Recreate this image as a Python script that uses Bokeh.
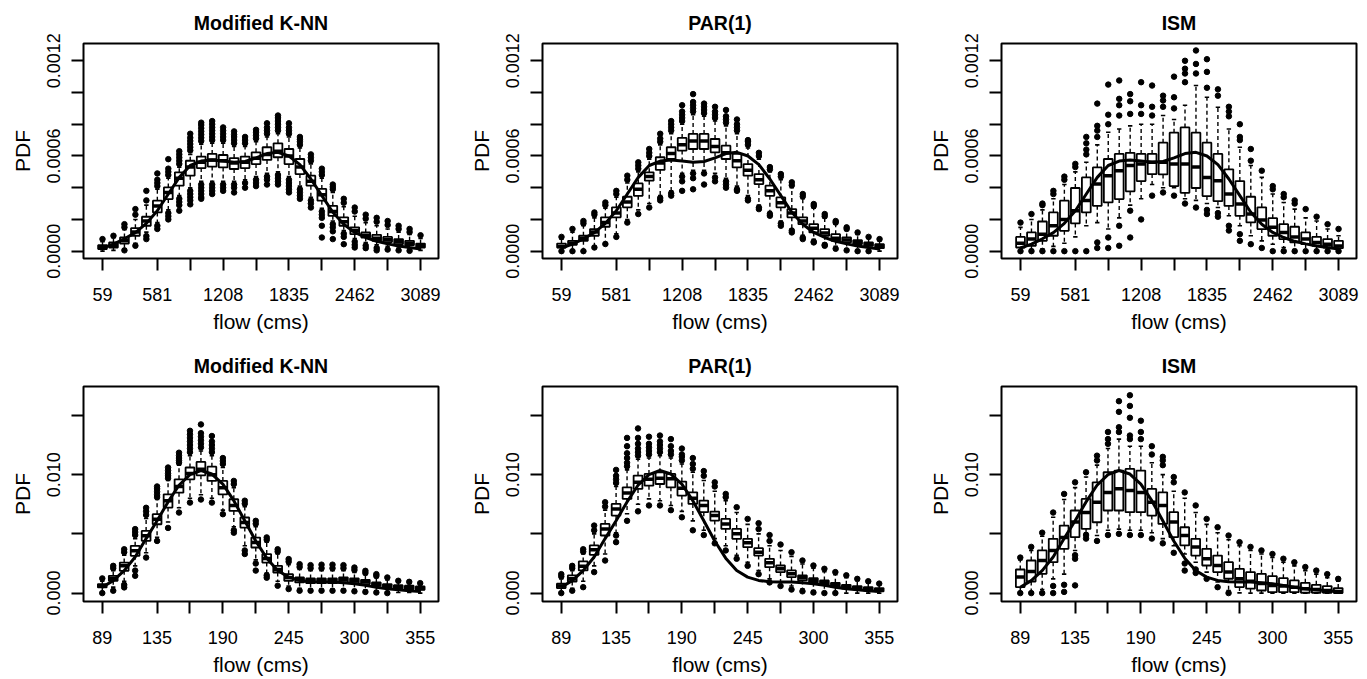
import numpy as np
from bokeh.plotting import figure
from bokeh.layouts import row, column
from bokeh.models import FixedTicker, Range1d
from bokeh.embed import file_html
from bokeh.resources import INLINE

# ---------------- data ----------------
titles = ["Modified K-NN", "PAR(1)", "ISM"]
x_label = "flow (cms)"
y_label = "PDF"

# box positions (flow bins) -- 30 bins per row
top_lo_flow, top_hi_flow = 59, 3089
bot_lo_flow, bot_hi_flow = 89, 355
tick_idx = [0, 5, 8, 11, 14, 17, 20, 23, 26, 29]
top_tick_labels = ["59", "581", "", "1208", "", "1835", "", "2462", "", "3089"]
bot_tick_labels = ["89", "135", "", "190", "", "245", "", "300", "", "355"]
top_yticks = [0.0, 0.0002, 0.0004, 0.0006, 0.0008, 0.001, 0.0012]
top_ylabels = ["0.0000", "", "", "0.0006", "", "", "0.0012"]
bot_yticks = [0.0, 0.005, 0.01, 0.015]
bot_ylabels = ["0.000", "", "0.010", ""]

# ---- top row (values in units of 1e-4) ----
obs_top = [0.2, 0.44, 0.78, 1.17, 1.75, 2.55, 3.6, 4.65, 5.4, 5.68, 5.75, 5.68, 5.6, 5.65, 5.88,
           6.15, 6.23, 6.0, 5.45, 4.55, 3.5, 2.45, 1.7, 1.18, 0.86, 0.62, 0.46, 0.33, 0.23, 0.14]

knn1_q1 = [0.13, 0.23, 0.48, 0.97, 1.6, 2.44, 3.28, 4.13, 4.76, 5.24, 5.33, 5.28, 5.18, 5.24, 5.49,
           5.75, 5.92, 5.49, 4.86, 4.13, 3.18, 2.23, 1.6, 1.07, 0.86, 0.65, 0.57, 0.44, 0.38, 0.23]
knn1_med = [0.25, 0.38, 0.65, 1.2, 1.9, 2.85, 3.7, 4.6, 5.3, 5.6, 5.75, 5.7, 5.55, 5.6, 5.85,
            6.1, 6.3, 6.0, 5.3, 4.4, 3.55, 2.5, 1.85, 1.3, 1.0, 0.82, 0.72, 0.6, 0.5, 0.35]
knn1_q3 = [0.38, 0.55, 0.86, 1.45, 2.17, 3.18, 4.02, 4.97, 5.7, 5.96, 6.13, 6.06, 5.87, 5.96, 6.23,
           6.55, 6.8, 6.44, 5.81, 4.76, 3.92, 2.86, 2.13, 1.5, 1.18, 1.03, 0.9, 0.76, 0.65, 0.48]
knn1_lo = [0.0, 0.05, 0.15, 0.5, 1.2, 1.8, 2.6, 3.5, 4.0, 4.4, 4.4, 4.4, 4.4, 4.5, 4.7,
           4.9, 5.0, 4.7, 4.1, 3.4, 2.7, 1.9, 1.3, 0.8, 0.55, 0.4, 0.3, 0.2, 0.15, 0.05]
knn1_hi = [0.6, 0.85, 1.35, 2.0, 2.9, 3.9, 4.6, 5.3, 6.1, 6.75, 6.8, 6.8, 6.6, 6.6, 6.9,
           7.2, 7.4, 7.2, 6.5, 5.5, 4.6, 3.7, 2.8, 2.2, 1.8, 1.6, 1.4, 1.2, 1.05, 0.8]
knn1_out_hi = [[0.76], [0.97], [1.5, 1.7], [2.3, 2.65], [3.2, 3.8], [4.1, 4.3, 4.5, 4.9],
               [4.8, 5.0, 5.2, 5.8], [5.5, 5.7, 5.9, 6.1, 6.3], [6.35, 6.55, 6.75, 6.95, 7.15, 7.4],
               [6.95, 7.15, 7.35, 7.55, 7.75, 7.95, 8.1], [7.0, 7.2, 7.4, 7.6, 7.8, 8.0, 8.2],
               [7.0, 7.2, 7.4, 7.6, 7.8], [6.8, 7.0, 7.2, 7.35, 7.55], [6.8, 7.0, 7.2],
               [7.1, 7.3, 7.5, 7.65], [7.4, 7.6, 7.8, 8.06], [7.6, 7.8, 8.0, 8.2, 8.4, 8.55],
               [7.4, 7.6, 7.8, 8.06], [6.7, 6.9, 7.05, 7.2], [5.7, 5.9, 6.1], [4.8, 5.0, 5.2],
               [3.9, 4.05, 4.2], [3.05, 3.3], [2.5, 2.75], [2.05, 2.3], [1.85, 2.1], [1.65, 1.9],
               [1.4, 1.6], [1.2, 1.4], [1.0]]
knn1_out_lo = [[], [], [0.05], [0.34], [0.95, 0.76], [1.6, 1.4], [2.4, 2.2, 2.0], [3.3, 3.1, 2.9, 2.55],
               [3.8, 3.6, 3.4, 3.2, 2.95], [4.2, 4.0, 3.8, 3.6, 3.4, 3.3], [4.2, 4.0, 3.8, 3.6],
               [4.2, 4.0, 3.8], [4.2, 4.0, 3.7], [4.3, 4.0], [4.5, 4.3, 4.1], [4.7, 4.5, 4.2],
               [4.8, 4.6, 4.4, 4.2], [4.5, 4.3, 4.1, 3.9, 3.7], [3.9, 3.7, 3.5, 3.3], [3.2, 3.0, 2.75],
               [2.5, 2.3, 2.1, 1.6, 0.86], [1.7, 1.5, 1.25, 0.76], [1.1, 0.9, 0.44], [0.6, 0.4, 0.23],
               [0.35, 0.19], [0.2, 0.05], [0.1], [0.05], [0.02], []]

par1_q1 = [0.23, 0.4, 0.65, 0.97, 1.54, 2.13, 2.76, 3.49, 4.44, 5.12, 5.81, 6.34, 6.44, 6.44, 6.23,
           5.81, 5.28, 4.76, 4.23, 3.49, 2.76, 2.13, 1.7, 1.18, 0.97, 0.65, 0.55, 0.44, 0.34, 0.19]
par1_med = [0.3, 0.5, 0.8, 1.2, 1.8, 2.4, 3.1, 3.9, 4.7, 5.55, 6.15, 6.7, 6.95, 6.95, 6.6,
            6.2, 5.7, 5.1, 4.5, 3.8, 3.05, 2.4, 1.9, 1.45, 1.15, 0.82, 0.7, 0.55, 0.42, 0.3]
par1_q3 = [0.48, 0.65, 0.97, 1.39, 2.13, 2.76, 3.43, 4.27, 4.97, 5.92, 6.55, 7.14, 7.39, 7.39, 7.07,
           6.65, 6.13, 5.49, 4.86, 4.13, 3.39, 2.65, 2.13, 1.7, 1.39, 1.07, 0.86, 0.69, 0.55, 0.44]
par1_lo = [0.0, 0.02, 0.05, 0.3, 0.55, 1.1, 2.0, 2.6, 3.0, 3.5, 3.8, 4.9, 5.1, 5.1, 4.9,
           4.6, 4.1, 3.5, 2.9, 2.5, 1.9, 1.4, 1.0, 0.75, 0.5, 0.3, 0.15, 0.05, 0.02, 0.0]
par1_hi = [0.75, 1.2, 1.6, 2.1, 2.7, 3.4, 4.3, 5.0, 5.8, 6.7, 7.4, 8.0, 8.6, 8.5, 8.2,
           7.9, 7.4, 6.5, 5.8, 5.0, 4.5, 4.0, 3.3, 2.7, 2.1, 1.7, 1.3, 1.05, 0.8, 0.65]
par1_out_hi = [[0.9], [1.4], [1.75, 1.9], [2.3, 2.44], [2.9, 3.07], [3.6, 3.8], [4.5, 4.76],
               [5.2, 5.4, 5.6], [6.0, 6.2, 6.44], [6.9, 7.1, 7.4], [7.6, 7.8, 8.0, 8.2],
               [8.2, 8.4, 8.6, 8.8, 9.2], [8.8, 9.0, 9.2, 9.4, 9.9], [8.7, 8.9, 9.1, 9.3],
               [8.4, 8.6, 8.8, 9.1], [8.1, 8.3, 8.5, 8.9], [7.6, 7.8, 8.0, 8.3], [6.7, 6.9, 7.0],
               [6.0, 6.2], [5.15, 5.3], [4.7, 4.86], [4.15, 4.34], [3.45, 3.6], [2.85, 2.97],
               [2.2, 2.34], [1.8, 1.9], [1.4, 1.5], [1.18], [0.9], [0.76]]
par1_out_lo = [[0.0], [0.0], [0.0], [0.23], [0.45], [0.9], [1.8], [2.34], [2.75], [3.2, 3.35],
               [3.5, 3.65], [4.7, 4.4, 3.8], [4.9, 4.6, 3.9], [4.9, 4.2], [4.65, 4.4], [4.4, 4.2, 4.0],
               [3.9, 3.8], [3.3, 3.2], [2.75, 2.65], [2.35, 2.23], [1.75, 1.6], [1.3, 1.18],
               [0.85, 0.76], [0.6, 0.55], [0.4, 0.34], [0.15], [0.05], [0.0], [0.0], []]

ism1_q1 = [0.23, 0.34, 0.65, 0.97, 1.28, 1.75, 2.44, 2.86, 3.07, 3.28, 3.77, 4.42, 4.86, 4.84, 4.1,
           3.68, 3.98, 3.47, 3.15, 2.85, 2.23, 1.81, 1.39, 0.97, 0.76, 0.55, 0.44, 0.34, 0.23, 0.19]
ism1_med = [0.5, 0.76, 1.07, 1.6, 2.0, 2.55, 3.2, 4.23, 4.76, 5.07, 5.4, 5.5, 5.6, 5.6, 5.5,
            5.5, 5.3, 4.65, 4.44, 3.6, 2.97, 2.34, 1.96, 1.5, 1.18, 0.9, 0.76, 0.55, 0.44, 0.32]
ism1_q3 = [0.9, 1.18, 1.87, 2.44, 3.18, 3.98, 4.65, 5.28, 5.81, 6.13, 6.2, 6.13, 6.13, 6.84, 7.47,
           7.8, 7.47, 6.84, 6.13, 5.16, 4.42, 3.43, 2.76, 2.08, 1.7, 1.54, 1.18, 0.9, 0.76, 0.65]
ism1_lo = [0.05, 0.1, 0.15, 0.3, 0.5, 0.9, 1.6, 1.8, 1.4, 2.1, 2.9, 3.3, 4.2, 4.0, 4.0,
           3.3, 3.2, 3.0, 2.75, 2.23, 1.6, 0.97, 0.65, 0.44, 0.23, 0.1, 0.05, 0.05, 0.02, 0.02]
ism1_hi = [1.5, 2.0, 2.6, 3.3, 4.2, 5.0, 5.6, 6.7, 7.5, 7.7, 7.9, 8.0, 8.0, 8.55, 8.3,
           9.2, 10.44, 9.7, 9.07, 7.7, 6.55, 5.4, 4.65, 3.6, 3.07, 2.65, 2.1, 1.9, 1.4, 0.97]
ism1_out_hi = [[1.8], [2.34], [2.9, 3.0], [3.6, 3.8], [4.5, 4.7], [5.3, 5.5], [6.1, 6.4, 6.8, 7.2],
               [7.2, 7.6, 7.9, 9.3], [8.0, 8.6, 10.5], [8.55, 9.2, 9.6, 10.76], [8.65, 9.45, 9.9],
               [8.65, 9.2, 10.65], [8.55, 9.1, 10.44], [9.1, 9.5, 9.8], [9.0, 9.7, 11.0],
               [10.65, 11.2, 11.5, 12.0], [11.2, 11.8, 12.65], [10.3, 11.3, 12.1], [9.8, 10.2],
               [8.5, 8.8, 9.1], [7.0, 7.2, 8.0], [5.7, 6.44], [5.07], [3.9, 4.1], [3.4, 3.6],
               [3.0, 3.2], [2.65], [2.17], [1.7], [1.4]]
ism1_out_lo = [[0.0], [0.0], [0.0], [0.0], [0.0], [0.0], [0.0], [0.55, 0.2], [0.86, 0.2], [1.6, 0.34],
               [2.55, 0.86], [2.0], [3.5], [3.7], [3.5], [3.0], [2.75], [2.6, 2.34], [2.4, 2.17],
               [1.6, 1.3], [1.07, 0.65], [0.44], [0.2], [0.0], [0.0], [0.0], [0.0], [0.0], [0.0], [0.0]]

# ---- bottom row (values in units of 1e-3) ----
obs_bot = [0.5, 1.05, 1.9, 3.05, 4.6, 6.1, 7.7, 9.1, 10.0, 10.35, 10.05, 9.2, 7.8, 6.1, 4.4,
           2.95, 1.9, 1.35, 1.07, 0.95, 0.93, 0.93, 0.87, 0.79, 0.65, 0.5, 0.37, 0.28, 0.2, 0.14]

knn2_q1 = [0.48, 1.04, 1.88, 3.15, 4.41, 5.81, 7.22, 8.48, 9.6, 9.94, 9.47, 8.34, 6.94, 5.53, 3.85,
           2.58, 1.74, 1.04, 0.9, 0.84, 0.84, 0.84, 0.9, 0.84, 0.76, 0.62, 0.48, 0.39, 0.34, 0.28]
knn2_med = [0.62, 1.24, 2.3, 3.57, 4.83, 6.24, 7.8, 9.0, 10.1, 10.45, 10.0, 8.9, 7.4, 5.95, 4.27,
            2.92, 2.0, 1.32, 1.12, 1.04, 1.04, 1.04, 1.12, 1.04, 0.95, 0.76, 0.62, 0.53, 0.45, 0.39]
knn2_q3 = [0.76, 1.46, 2.58, 3.99, 5.25, 6.66, 8.34, 9.6, 10.6, 11.07, 10.67, 9.47, 7.92, 6.38, 4.69,
           3.29, 2.3, 1.6, 1.32, 1.24, 1.24, 1.24, 1.32, 1.24, 1.12, 0.9, 0.76, 0.67, 0.62, 0.56]
knn2_lo = [0.1, 0.5, 1.0, 2.3, 3.4, 4.7, 6.0, 7.2, 8.0, 8.3, 8.0, 7.0, 5.6, 4.0, 2.8,
           1.7, 1.0, 0.6, 0.4, 0.35, 0.35, 0.35, 0.35, 0.3, 0.25, 0.2, 0.1, 0.05, 0.05, 0.0]
knn2_hi = [1.0, 1.9, 3.2, 4.6, 6.3, 7.9, 9.5, 10.8, 11.6, 12.0, 11.6, 10.6, 8.9, 7.3, 5.6,
           4.3, 3.3, 2.4, 2.0, 1.9, 1.9, 1.9, 1.9, 1.75, 1.55, 1.3, 1.1, 0.9, 0.8, 0.7]
knn2_out_hi = [[1.24], [2.1, 2.3], [3.45, 3.7], [4.9, 5.15, 5.4], [6.6, 6.9, 7.2],
               [8.1, 8.3, 8.55, 8.8, 9.0], [9.7, 9.9, 10.1, 10.35, 10.6], [11.0, 11.2, 11.4, 11.6, 11.85],
               [11.9, 12.2, 12.5, 12.8, 13.1, 13.4, 13.7], [12.3, 12.6, 12.9, 13.2, 13.5, 14.24],
               [11.9, 12.2, 12.5, 12.8, 13.26], [10.9, 11.15, 11.4], [9.2, 9.47], [7.55, 7.8],
               [5.85, 6.1], [4.5, 4.7], [3.5, 3.7], [2.65, 2.87], [2.2, 2.44], [2.1, 2.36],
               [2.1, 2.4], [2.1, 2.4], [2.1, 2.36], [1.95, 2.16], [1.7, 1.88], [1.45, 1.6],
               [1.32], [1.04], [0.95], [0.84]]
knn2_out_lo = [[0.0], [0.2], [0.7, 0.48], [1.9, 1.46], [3.0], [4.4], [5.5], [6.8], [7.64], [7.9],
               [7.64], [6.66], [5.3, 5.1], [3.6, 3.3], [2.5, 1.9], [1.5, 1.3], [0.62], [0.34], [0.2],
               [0.2], [0.2], [0.2], [0.2], [0.15], [0.1], [0.05], [0.0], [], [], []]

par2_q1 = [0.42, 0.98, 1.91, 3.23, 4.86, 6.54, 7.95, 8.79, 9.07, 9.21, 8.93, 8.23, 7.53, 6.83, 6.12,
           5.42, 4.58, 3.88, 3.17, 2.19, 1.77, 1.35, 1.07, 0.87, 0.7, 0.51, 0.37, 0.31, 0.22, 0.14]
par2_med = [0.6, 1.2, 2.27, 3.65, 5.4, 7.1, 8.45, 9.35, 9.6, 9.7, 9.65, 8.85, 8.0, 7.4, 6.55,
            5.84, 5.0, 4.24, 3.45, 2.56, 2.05, 1.63, 1.3, 1.07, 0.87, 0.7, 0.53, 0.45, 0.37, 0.28]
par2_q3 = [0.79, 1.49, 2.67, 4.02, 5.84, 7.53, 8.93, 9.92, 10.06, 10.2, 10.06, 9.41, 8.51, 7.81, 6.88,
           6.26, 5.42, 4.58, 3.79, 2.89, 2.33, 1.91, 1.49, 1.26, 1.07, 0.87, 0.7, 0.59, 0.51, 0.42]
par2_lo = [0.1, 0.4, 1.0, 2.3, 3.3, 5.1, 6.7, 7.5, 7.95, 7.8, 7.4, 6.9, 6.1, 5.3, 4.6,
           4.0, 3.2, 2.6, 1.9, 1.2, 0.93, 0.6, 0.37, 0.22, 0.1, 0.05, 0.0, 0.0, 0.0, 0.0]
par2_hi = [1.2, 1.9, 3.3, 5.0, 7.0, 9.0, 10.4, 11.3, 11.4, 11.6, 11.4, 10.9, 10.2, 9.5, 8.6,
           7.8, 6.8, 5.8, 5.0, 4.0, 3.6, 3.1, 2.45, 2.1, 1.8, 1.55, 1.3, 1.05, 0.85, 0.7]
par2_out_hi = [[1.4, 1.6], [2.1, 2.3], [3.5, 3.7], [5.3, 5.7], [7.3, 7.67], [9.3, 9.6, 9.9, 10.4],
               [10.7, 11.0, 11.4, 11.8, 12.4, 13.1], [11.6, 11.9, 12.2, 12.6, 13.1, 13.9],
               [11.7, 12.0, 12.3, 12.6, 13.2], [11.9, 12.2, 12.5, 12.8, 13.3], [11.7, 12.0, 12.4, 13.0],
               [11.2, 11.5, 11.7, 12.2], [10.5, 10.9, 11.4], [9.9, 10.3], [9.0, 9.35], [8.1, 8.37],
               [7.25], [6.26], [5.4, 5.9], [4.4, 4.9], [4.1], [3.45], [2.75], [2.33], [2.05], [1.77],
               [1.5], [1.2], [1.0], [0.8]]
par2_out_lo = [[0.0], [0.2], [0.5], [1.77], [2.75], [4.86, 4.3], [6.1], [6.9], [7.4], [7.4], [7.0],
               [6.4], [5.3], [4.9], [4.2], [3.6], [2.9], [2.3], [1.6], [0.9], [0.6], [0.3], [0.15],
               [0.05], [0.0], [0.0], [], [], [], []]

ism2_q1 = [0.51, 0.98, 1.63, 2.61, 3.74, 4.72, 5.42, 5.98, 6.97, 6.97, 6.83, 6.83, 6.54, 5.84, 4.72,
           4.02, 3.17, 2.33, 1.77, 1.21, 0.51, 0.37, 0.22, 0.08, 0.08, 0.08, 0.03, 0.03, 0.03, 0.0]
ism2_med = [1.35, 1.83, 2.75, 3.6, 4.7, 6.0, 6.8, 7.67, 8.5, 8.8, 8.65, 8.5, 7.67, 7.4, 6.0,
            4.86, 3.9, 2.9, 2.33, 1.77, 1.2, 1.0, 0.8, 0.65, 0.6, 0.5, 0.37, 0.3, 0.22, 0.14]
ism2_q3 = [1.99, 2.75, 3.6, 4.58, 5.7, 6.97, 7.95, 9.35, 10.2, 10.34, 10.48, 10.34, 8.79, 8.51, 6.83,
           5.56, 4.58, 3.74, 3.17, 2.61, 2.05, 1.77, 1.63, 1.43, 1.26, 1.07, 0.87, 0.7, 0.59, 0.42]
ism2_lo = [0.05, 0.1, 0.3, 1.2, 1.6, 3.6, 5.1, 4.86, 5.3, 5.4, 5.3, 5.3, 5.1, 4.6, 4.0,
           3.3, 2.6, 1.77, 0.93, 0.22, 0.02, 0.0, 0.0, 0.0, 0.0, 0.0, 0.0, 0.0, 0.0, 0.0]
ism2_hi = [2.8, 3.6, 4.8, 6.4, 7.9, 8.9, 9.8, 10.8, 12.2, 13.0, 12.4, 12.4, 11.0, 10.0, 8.6,
           8.0, 6.8, 5.8, 5.1, 4.5, 4.0, 3.6, 3.3, 3.0, 2.6, 2.3, 1.9, 1.6, 1.3, 1.0]
ism2_out_hi = [[3.0], [3.9], [5.1], [6.8], [8.37], [9.35], [10.2], [11.2, 11.6], [12.6, 13.0, 13.6],
               [13.6, 14.0, 15.3, 16.2], [13.0, 13.3, 14.8, 15.8, 16.7], [13.0, 13.6, 14.55],
               [11.7, 12.4], [10.8, 11.2, 11.5], [9.35, 9.8], [8.5], [7.4], [6.26], [5.56], [4.86],
               [4.3], [3.9], [3.6], [3.3], [2.9], [2.6], [2.2], [1.9], [1.6], [1.2]]
ism2_out_lo = [[0.0], [0.0], [0.0], [0.6, 0.0], [0.7, 0.1], [3.2, 2.9, 0.65], [4.9, 4.6], [4.4], [4.9],
               [5.0], [4.9], [4.9], [4.6], [4.2], [3.4], [2.5, 1.9], [2.0, 1.7], [1.2], [0.5], [0.0],
               [], [], [], [], [], [], [], [], [], []]

# ---------------- drawing ----------------
FONT = "Liberation Sans"


def panel(title, xpos, q1, med, q3, lo, hi, out_hi, out_lo, obs, unit,
          x_range, y_range, tick_labels, yticks, ylabels, width, height, mb):
    s = unit
    q1, med, q3 = np.array(q1) * s, np.array(med) * s, np.array(q3) * s
    lo, hi, obs = np.array(lo) * s, np.array(hi) * s, np.array(obs) * s
    bw = 0.8 * (xpos[1] - xpos[0])
    p = figure(width=width, height=height, title=title,
               x_range=Range1d(*x_range), y_range=Range1d(*y_range),
               output_backend="svg", toolbar_location=None,
               min_border_left=mb[0], min_border_right=mb[1],
               min_border_top=mb[2], min_border_bottom=mb[3])
    p.background_fill_color = "white"
    p.border_fill_color = "white"
    p.outline_line_color = "black"
    p.outline_line_width = 2
    p.xgrid.visible = False
    p.ygrid.visible = False
    p.title.align = "center"
    p.title.text_font = FONT
    p.title.text_font_size = "19.5px"
    p.title.text_font_style = "bold"
    p.title.text_color = "black"
    p.title.standoff = 19

    # whiskers (dashed) and staples
    p.segment(xpos, q3, xpos, hi, line_color="black", line_width=1.4, line_dash="4 3")
    p.segment(xpos, q1, xpos, lo, line_color="black", line_width=1.4, line_dash="4 3")
    p.segment(xpos - bw / 4, hi, xpos + bw / 4, hi, line_color="black", line_width=1.6)
    p.segment(xpos - bw / 4, lo, xpos + bw / 4, lo, line_color="black", line_width=1.6)
    # boxes
    p.quad(left=xpos - bw / 2, right=xpos + bw / 2, bottom=q1, top=q3,
           fill_color="white", line_color="black", line_width=1.8)
    p.segment(xpos - bw / 2, med, xpos + bw / 2, med, line_color="black", line_width=3.5)
    # outliers
    ox, oy = [], []
    for i, vals in enumerate(out_hi):
        for v in vals:
            ox.append(xpos[i]); oy.append(v * s)
    for i, vals in enumerate(out_lo):
        for v in vals:
            ox.append(xpos[i]); oy.append(v * s)
    p.scatter(ox, oy, size=5.5, color="black")
    # observed PDF
    p.line(xpos, obs, line_color="black", line_width=3)

    # axes
    xt = [float(xpos[i]) for i in tick_idx]
    p.xaxis.ticker = FixedTicker(ticks=xt)
    p.xaxis.major_label_overrides = {t: l for t, l in zip(xt, tick_labels)}
    p.yaxis.ticker = FixedTicker(ticks=yticks)
    p.yaxis.major_label_overrides = {t: l for t, l in zip(yticks, ylabels)}
    p.yaxis.major_label_orientation = "vertical"
    p.xaxis.axis_label = x_label
    p.yaxis.axis_label = y_label
    for ax in (p.xaxis[0], p.yaxis[0]):
        ax.axis_line_color = None
        ax.major_tick_out = 12
        ax.major_tick_in = 0
        ax.major_tick_line_width = 2
        ax.major_tick_line_color = "black"
        ax.minor_tick_line_color = None
        ax.major_label_text_font = FONT
        ax.major_label_text_font_size = "18px"
        ax.major_label_text_color = "black"
        ax.axis_label_text_font = FONT
        ax.axis_label_text_font_size = "21px"
        ax.axis_label_text_font_style = "normal"
        ax.axis_label_text_color = "black"
    p.xaxis.major_label_standoff = 17
    p.xaxis.axis_label_standoff = 6
    p.yaxis.major_label_standoff = 11
    p.yaxis.axis_label_standoff = 11
    return p


xpos_top = np.linspace(top_lo_flow, top_hi_flow, 30)
xpos_bot = np.linspace(bot_lo_flow, bot_hi_flow, 30)

top_xr = (-122, 3260)
bot_xr = (73.3, 370.3)
top_yr = (-0.0000463, 0.001309)
bot_yr = (-0.00071, 0.01744)

widths = [459, 459, 447]
rights = [21, 21, 9]
top_sets = [
    (knn1_q1, knn1_med, knn1_q3, knn1_lo, knn1_hi, knn1_out_hi, knn1_out_lo),
    (par1_q1, par1_med, par1_q3, par1_lo, par1_hi, par1_out_hi, par1_out_lo),
    (ism1_q1, ism1_med, ism1_q3, ism1_lo, ism1_hi, ism1_out_hi, ism1_out_lo),
]
bot_sets = [
    (knn2_q1, knn2_med, knn2_q3, knn2_lo, knn2_hi, knn2_out_hi, knn2_out_lo),
    (par2_q1, par2_med, par2_q3, par2_lo, par2_hi, par2_out_hi, par2_out_lo),
    (ism2_q1, ism2_med, ism2_q3, ism2_lo, ism2_hi, ism2_out_hi, ism2_out_lo),
]

top_row, bot_row = [], []
for k in range(3):
    q1, med, q3, lo, hi, oh, ol = top_sets[k]
    top_row.append(panel(titles[k], xpos_top, q1, med, q3, lo, hi, oh, ol, obs_top, 1e-4,
                         top_xr, top_yr, top_tick_labels, top_yticks, top_ylabels,
                         widths[k], 343, (83, rights[k], 43, 85)))
    q1, med, q3, lo, hi, oh, ol = bot_sets[k]
    bot_row.append(panel(titles[k], xpos_bot, q1, med, q3, lo, hi, oh, ol, obs_bot, 1e-3,
                         bot_xr, bot_yr, bot_tick_labels, bot_yticks, bot_ylabels,
                         widths[k], 336, (83, rights[k], 43, 78)))

layout = column(row(*top_row), row(*bot_row))
open("out.html", "w").write(file_html(layout, INLINE))
